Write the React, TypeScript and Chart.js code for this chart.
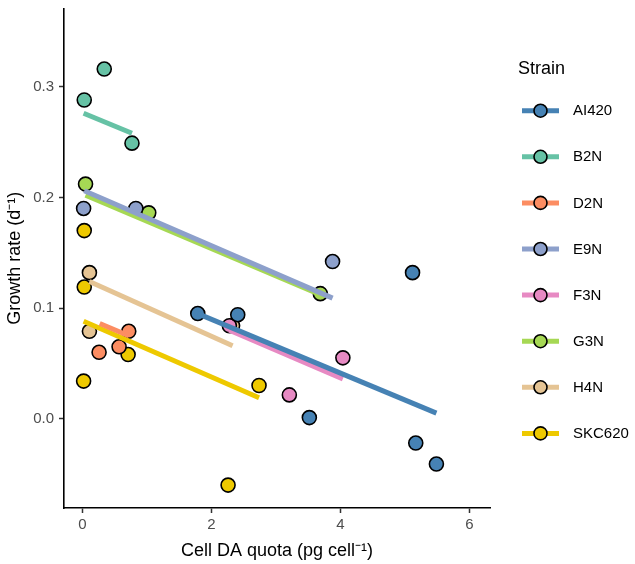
import React, { useEffect, useRef } from "react";
import { Chart, registerables } from "chart.js";

Chart.register(...registerables);

const strains = ["AI420", "B2N", "D2N", "E9N", "F3N", "G3N", "H4N", "SKC620"];
const colors = ["#4682B4", "#66C2A5", "#FC8D62", "#8DA0CB", "#E78AC3", "#A6D854", "#E5C494", "#EEC900"];

// observed points (Cell DA quota, growth rate)
const ai420X = [1.79, 2.41, 3.52, 5.12, 5.17, 5.49];
const ai420Y = [0.095, 0.094, 0.001, 0.132, -0.022, -0.041];
const b2nX = [0.03, 0.34, 0.77];
const b2nY = [0.288, 0.316, 0.249];
const d2nX = [0.26, 0.57, 0.72];
const d2nY = [0.060, 0.065, 0.079];
const e9nX = [0.02, 0.83, 3.88];
const e9nY = [0.190, 0.190, 0.142];
const f3nX = [2.28, 3.21, 4.04];
const f3nY = [0.084, 0.0215, 0.055];
const g3nX = [0.05, 1.03, 3.69];
const g3nY = [0.212, 0.186, 0.113];
const h4nX = [0.11, 0.11, 2.33];
const h4nY = [0.132, 0.079, 0.084];
const skcX = [0.02, 0.03, 0.03, 0.71, 2.26, 2.74];
const skcY = [0.034, 0.119, 0.170, 0.058, -0.060, 0.030];

const pointsX = [ai420X, b2nX, d2nX, e9nX, f3nX, g3nX, h4nX, skcX];
const pointsY = [ai420Y, b2nY, d2nY, e9nY, f3nY, g3nY, h4nY, skcY];

// fitted line endpoints per strain
const fitX0 = [1.79, 0.02, 0.27, 0.03, 2.28, 0.05, 0.11, 0.02];
const fitX1 = [5.49, 0.77, 0.72, 3.88, 4.04, 3.69, 2.33, 2.74];
const fitY0 = [0.095, 0.276, 0.086, 0.206, 0.080, 0.202, 0.124, 0.088];
const fitY1 = [0.005, 0.258, 0.075, 0.109, 0.036, 0.112, 0.066, 0.019];

const xTicks = [0, 2, 4, 6];
const yTicks = [0.0, 0.1, 0.2, 0.3];

const X_MIN = -0.284;
const X_MAX = 6.321;
const Y_MIN = -0.0807;
const Y_MAX = 0.3706;

const FONT = "'Liberation Sans', Arial, Helvetica, sans-serif";

const legendPlugin = {
  id: "strainLegend",
  afterDraw(chart: any) {
    const ctx = chart.ctx;
    ctx.save();
    ctx.fillStyle = "#000";
    ctx.font = `18px ${FONT}`;
    ctx.textAlign = "left";
    ctx.textBaseline = "middle";
    ctx.fillText("Strain", 518, 69);
    strains.forEach((s, i) => {
      const y = 110.7 + i * 46.1;
      ctx.strokeStyle = colors[i];
      ctx.lineWidth = 5;
      ctx.lineCap = "butt";
      ctx.beginPath();
      ctx.moveTo(522, y);
      ctx.lineTo(559, y);
      ctx.stroke();
      ctx.beginPath();
      ctx.arc(540.5, y, 6.5, 0, Math.PI * 2);
      ctx.fillStyle = colors[i];
      ctx.fill();
      ctx.lineWidth = 1.6;
      ctx.strokeStyle = "#000";
      ctx.stroke();
      ctx.fillStyle = "#000";
      ctx.font = `15px ${FONT}`;
      ctx.fillText(s, 573, y + 0.5);
    });
    ctx.restore();
  },
};

export default function App() {
  const ref = useRef<HTMLCanvasElement | null>(null);

  useEffect(() => {
    if (!ref.current) return;
    Chart.defaults.font.family = FONT;

    const lineSets = strains.map((s, i) => ({
      type: "line" as const,
      label: s + " fit",
      data: [
        { x: fitX0[i], y: fitY0[i] },
        { x: fitX1[i], y: fitY1[i] },
      ],
      borderColor: colors[i],
      backgroundColor: colors[i],
      borderWidth: 5,
      pointRadius: 0,
      fill: false,
      tension: 0,
    }));

    const pointSets = strains.map((s, i) => ({
      type: "scatter" as const,
      label: s,
      data: pointsX[i].map((x, j) => ({ x, y: pointsY[i][j] })),
      backgroundColor: colors[i],
      borderColor: "#000",
      borderWidth: 1.6,
      pointRadius: 7,
      showLine: false,
    }));

    const chart = new Chart(ref.current, {
      type: "scatter",
      data: { datasets: [...lineSets, ...pointSets] as any },
      options: {
        animation: false,
        responsive: false,
        devicePixelRatio: 1,
        events: [],
        layout: { padding: { left: 0, top: 2, right: 145, bottom: 0 } },
        plugins: {
          legend: { display: false },
          tooltip: { enabled: false },
        },
        scales: {
          x: {
            type: "linear",
            min: X_MIN,
            max: X_MAX,
            afterFit: (scale: any) => {
              scale.height = 56;
              scale.paddingLeft = 0;
              scale.paddingRight = 0;
            },
            afterBuildTicks: (scale: any) => {
              scale.ticks = xTicks.map((v) => ({ value: v }));
            },
            ticks: {
              color: "#4D4D4D",
              font: { size: 15 },
              padding: 3,
              callback: (v: any) => String(v),
            },
            grid: {
              display: true,
              drawOnChartArea: false,
              drawTicks: true,
              tickLength: 5,
              tickColor: "#333",
              tickWidth: 1.5,
            },
            border: { display: true, color: "#000", width: 1.6 },
            title: {
              display: true,
              text: "Cell DA quota (pg cell\u207B\u00B9)",
              color: "#000",
              font: { size: 18 },
              padding: { top: 0, bottom: 2 },
            },
          },
          y: {
            type: "linear",
            min: Y_MIN,
            max: Y_MAX,
            afterFit: (scale: any) => {
              scale.width = 64;
              scale.paddingTop = 0;
              scale.paddingBottom = 0;
            },
            afterBuildTicks: (scale: any) => {
              scale.ticks = yTicks.map((v) => ({ value: v }));
            },
            ticks: {
              color: "#4D4D4D",
              font: { size: 15 },
              padding: 5,
              callback: (v: any) => Number(v).toFixed(1),
            },
            grid: {
              display: true,
              drawOnChartArea: false,
              drawTicks: true,
              tickLength: 5,
              tickColor: "#333",
              tickWidth: 1.5,
            },
            border: { display: true, color: "#000", width: 1.6 },
            title: {
              display: true,
              text: "Growth rate (d\u207B\u00B9)",
              color: "#000",
              font: { size: 18 },
              padding: { top: 4, bottom: 0 },
            },
          },
        },
      },
      plugins: [legendPlugin],
    });

    return () => chart.destroy();
  }, []);

  return (
    <div style={{ position: "fixed", left: 0, top: 0, width: 635, height: 564, background: "#fff" }}>
      <canvas ref={ref} width={635} height={564} style={{ width: 635, height: 564 }} />
    </div>
  );
}
